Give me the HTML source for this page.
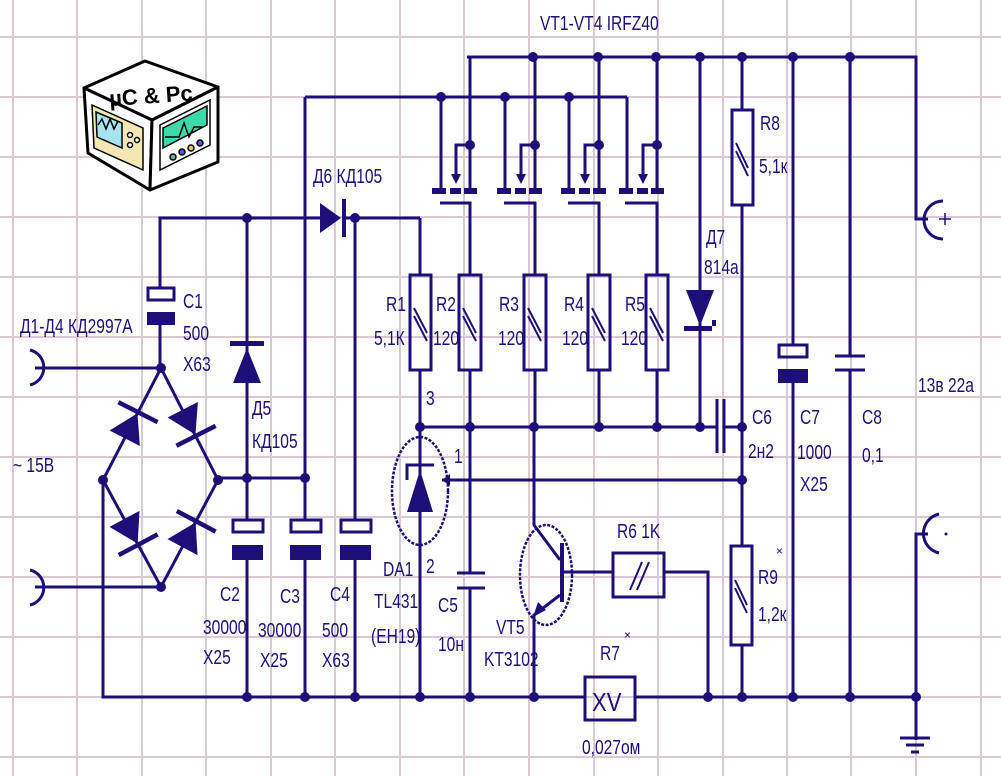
<!DOCTYPE html>
<html><head><meta charset="utf-8"><style>
html,body{margin:0;padding:0;background:#fff;}
svg{display:block;}
text{font-family:"Liberation Sans","DejaVu Sans",sans-serif;fill:#1e0f78;font-size:20px;}
</style></head><body>
<svg width="1001" height="776" viewBox="0 0 1001 776" xmlns="http://www.w3.org/2000/svg">
<rect width="1001" height="776" fill="#fff"/>
<g stroke="#d9c9d2" stroke-width="2">
<line x1="13" y1="0" x2="13" y2="776"/><line x1="77" y1="0" x2="77" y2="776"/><line x1="142" y1="0" x2="142" y2="776"/><line x1="206" y1="0" x2="206" y2="776"/><line x1="271" y1="0" x2="271" y2="776"/><line x1="335" y1="0" x2="335" y2="776"/><line x1="400" y1="0" x2="400" y2="776"/><line x1="464" y1="0" x2="464" y2="776"/><line x1="529" y1="0" x2="529" y2="776"/><line x1="594" y1="0" x2="594" y2="776"/><line x1="658" y1="0" x2="658" y2="776"/><line x1="723" y1="0" x2="723" y2="776"/><line x1="787" y1="0" x2="787" y2="776"/><line x1="851" y1="0" x2="851" y2="776"/><line x1="916" y1="0" x2="916" y2="776"/><line x1="981" y1="0" x2="981" y2="776"/>
<line x1="0" y1="37" x2="1001" y2="37"/><line x1="0" y1="97" x2="1001" y2="97"/><line x1="0" y1="157" x2="1001" y2="157"/><line x1="0" y1="217" x2="1001" y2="217"/><line x1="0" y1="277" x2="1001" y2="277"/><line x1="0" y1="337" x2="1001" y2="337"/><line x1="0" y1="397" x2="1001" y2="397"/><line x1="0" y1="457" x2="1001" y2="457"/><line x1="0" y1="517" x2="1001" y2="517"/><line x1="0" y1="577" x2="1001" y2="577"/><line x1="0" y1="637" x2="1001" y2="637"/><line x1="0" y1="697" x2="1001" y2="697"/><line x1="0" y1="757" x2="1001" y2="757"/>
</g>

<!-- logo -->
<g stroke="#000" stroke-width="3" stroke-linejoin="round">
<polygon points="84,88 145,61 218,87 152,120" fill="#fff"/>
<polygon points="84,88 152,120 150,190 88,153" fill="#fff"/>
<polygon points="152,120 218,87 218,162 150,190" fill="#fff"/>
</g>
<g stroke="#000" stroke-width="1.5">
<polygon points="92,105 143,128 143,170 94,148" fill="#f3e7b4"/>
<polygon points="96,112 122,123 122,148 97,137" fill="#a8e4f0"/>
<polygon points="160,125 210,100 210,145 160,170" fill="#fff"/>
<polygon points="163,128 207,106 207,125 163,148" fill="#3fd9a8"/>
<circle cx="173" cy="157" r="3" fill="#7aa"/><circle cx="182" cy="152" r="3" fill="#55e"/><circle cx="191" cy="148" r="3" fill="#ec5"/><circle cx="200" cy="143" r="3" fill="#55e"/>
<circle cx="130" cy="135" r="2.5" fill="#fff"/><circle cx="137" cy="140" r="2.5" fill="#fff"/><circle cx="130" cy="145" r="2.5" fill="#fff"/>
</g>
<path d="M98,125 l4,-6 4,10 4,-10 4,10 4,-8" stroke="#000" stroke-width="1.5" fill="none"/>
<path d="M165,137 h14 l5,-14 5,14 5,-10 h8" stroke="#000" stroke-width="1.5" fill="none"/>
<text x="109" y="104" style="font-weight:bold;fill:#000;font-size:22px" transform="rotate(-4 140 95)">µC &amp; Pc</text>

<!-- wires -->
<g stroke="#1e0f78" stroke-width="3" fill="none">
<polyline points="467,57 916,57 916,219 928,219"/>
<path d="M943,201 A18,18 0 0 0 943,239"/>
<polyline points="305,97 627,97"/>
<line x1="305" y1="97" x2="305" y2="520"/>
<line x1="441" y1="97" x2="441" y2="190"/><line x1="470" y1="57" x2="470" y2="190"/>
<line x1="505" y1="97" x2="505" y2="190"/><line x1="535" y1="57" x2="535" y2="190"/>
<line x1="569" y1="97" x2="569" y2="190"/><line x1="599" y1="57" x2="599" y2="190"/>
<line x1="627" y1="97" x2="627" y2="190"/><line x1="657" y1="57" x2="657" y2="190"/>
<polyline points="470,145 456,145 456,178"/><polyline points="535,145 521,145 521,178"/>
<polyline points="599,145 585,145 585,178"/><polyline points="657,145 643,145 643,178"/>
<polyline points="440,203 470,203 470,275"/><polyline points="504,203 535,203 535,275"/>
<polyline points="568,203 599,203 599,275"/><polyline points="625,203 657,203 657,275"/>
<line x1="470" y1="370" x2="470" y2="427"/><line x1="535" y1="370" x2="535" y2="427"/>
<line x1="599" y1="370" x2="599" y2="427"/><line x1="657" y1="370" x2="657" y2="427"/>
<rect x="459" y="275" width="22" height="95"/><rect x="524" y="275" width="22" height="95"/>
<rect x="588" y="275" width="22" height="95"/><rect x="646" y="275" width="22" height="95"/>
<line x1="420" y1="427" x2="717" y2="427"/><line x1="724" y1="427" x2="742" y2="427"/>
<line x1="717" y1="399" x2="717" y2="453"/><line x1="724" y1="399" x2="724" y2="453"/>
<line x1="700" y1="57" x2="700" y2="427"/>
<line x1="742" y1="57" x2="742" y2="110"/><rect x="732" y="110" width="21" height="95"/>
<line x1="742" y1="205" x2="742" y2="546"/><rect x="731" y="546" width="21" height="99"/>
<line x1="742" y1="645" x2="742" y2="697"/>
<line x1="793" y1="57" x2="793" y2="345"/><rect x="779" y="345" width="28" height="12"/><line x1="793" y1="382" x2="793" y2="697"/>
<line x1="850" y1="57" x2="850" y2="356"/><line x1="835" y1="356" x2="865" y2="356"/><line x1="835" y1="370" x2="865" y2="370"/><line x1="850" y1="370" x2="850" y2="697"/>
<polyline points="928,534 916,534 916,740"/>
<path d="M939,514 A20,20 0 0 0 939,553"/>
<line x1="900" y1="738" x2="930" y2="738"/><line x1="906" y1="745" x2="924" y2="745"/><line x1="911" y1="752" x2="919" y2="752"/>
<polyline points="103,480 103,697 585,697"/><line x1="635" y1="697" x2="916" y2="697"/>
<rect x="585" y="677" width="50" height="43"/>
<line x1="35" y1="368" x2="161" y2="368"/><line x1="35" y1="587" x2="161" y2="587"/>
<path d="M30,350 A18,18 0 0 1 30,385"/><path d="M30,570 A18,18 0 0 1 30,605"/>
<polyline points="161,368 103,480 161,587 218,480 161,368"/>
<line x1="218" y1="478" x2="305" y2="478"/>
<polyline points="160,288 160,218 320,218"/><line x1="345" y1="218" x2="420" y2="218"/>
<rect x="148" y="288" width="26" height="12"/><line x1="160" y1="325" x2="160" y2="368"/>
<line x1="247" y1="218" x2="247" y2="520"/><rect x="233" y="520" width="30" height="12"/><line x1="247" y1="560" x2="247" y2="697"/>
<rect x="291" y="520" width="30" height="12"/><line x1="305" y1="560" x2="305" y2="697"/>
<line x1="355" y1="218" x2="355" y2="520"/><rect x="341" y="520" width="30" height="12"/><line x1="355" y1="560" x2="355" y2="697"/>
<line x1="420" y1="218" x2="420" y2="275"/><rect x="410" y="275" width="21" height="95"/><line x1="420" y1="370" x2="420" y2="697"/>
<ellipse cx="420" cy="491" rx="28" ry="54" stroke-dasharray="3,1.5" stroke-width="2.5"/>
<line x1="442" y1="480" x2="742" y2="480"/>
<polyline points="407,480 407,465 434,465"/>
<line x1="470" y1="427" x2="470" y2="573"/><line x1="457" y1="573" x2="485" y2="573"/><line x1="457" y1="588" x2="485" y2="588"/><line x1="470" y1="588" x2="470" y2="697"/>
<ellipse cx="546" cy="575" rx="26" ry="50" stroke-dasharray="3,1.5" stroke-width="2.5"/>
<polyline points="534,427 534,525 560,560"/><polyline points="560,595 534,615 534,697"/>
<line x1="562" y1="543" x2="562" y2="602" stroke-width="4"/>
<line x1="564" y1="572" x2="613" y2="572"/><rect x="613" y="553" width="51" height="44"/>
<polyline points="664,572 708,572 708,697"/>
</g>
<g fill="#1e0f78" stroke="#1e0f78">
<g stroke="none">
<rect x="432" y="188" width="14" height="6"/><rect x="450" y="188" width="11" height="6"/><rect x="464" y="188" width="13" height="6"/>
<rect x="497" y="188" width="14" height="6"/><rect x="515" y="188" width="11" height="6"/><rect x="529" y="188" width="13" height="6"/>
<rect x="561" y="188" width="14" height="6"/><rect x="579" y="188" width="11" height="6"/><rect x="593" y="188" width="13" height="6"/>
<rect x="619" y="188" width="14" height="6"/><rect x="637" y="188" width="11" height="6"/><rect x="651" y="188" width="13" height="6"/>
<polygon points="451,174 461,174 456,184"/><polygon points="516,174 526,174 521,184"/><polygon points="580,174 590,174 585,184"/><polygon points="638,174 648,174 643,184"/>
<rect x="147" y="312" width="28" height="13"/>
<rect x="232" y="545" width="31" height="15"/><rect x="290" y="545" width="31" height="15"/><rect x="340" y="545" width="31" height="15"/>
<rect x="778" y="369" width="30" height="14"/>
<polygon points="320,203 320,233 341,218"/><rect x="342" y="199" width="4" height="38"/>
<polygon points="233,383 261,383 247,348"/><rect x="230" y="341" width="34" height="5"/>
<polygon points="686,290 714,290 700,326"/><polygon points="684,326 716,326 716,320 712,320 712,331 684,331"/>
<polygon points="407,512 433,512 420,470"/>
<polygon points="533,617 538,602 546,610"/>
<polygon points="442,480 450,474 450,486"/>
<g transform="translate(132,424) rotate(-63)"><polygon points="-16,-17 -16,17 12,0"/><rect x="11" y="-22" width="4.5" height="44"/></g>
<g transform="translate(190,424) rotate(63)"><polygon points="-16,-17 -16,17 12,0"/><rect x="11" y="-22" width="4.5" height="44"/></g>
<g transform="translate(132,533) rotate(62)"><polygon points="-16,-17 -16,17 12,0"/><rect x="11" y="-22" width="4.5" height="44"/></g>
<g transform="translate(190,533) rotate(-62)"><polygon points="-16,-17 -16,17 12,0"/><rect x="11" y="-22" width="4.5" height="44"/></g>
</g>
<g stroke="none">
<circle cx="533" cy="57" r="5"/><circle cx="598" cy="57" r="5"/><circle cx="656" cy="57" r="5"/><circle cx="700" cy="57" r="5"/><circle cx="742" cy="57" r="5"/><circle cx="793" cy="57" r="5"/><circle cx="850" cy="57" r="5"/>
<circle cx="441" cy="97" r="5"/><circle cx="505" cy="97" r="5"/><circle cx="569" cy="97" r="5"/>
<circle cx="470" cy="145" r="5"/><circle cx="535" cy="145" r="5"/><circle cx="599" cy="145" r="5"/><circle cx="657" cy="145" r="5"/>
<circle cx="247" cy="218" r="5"/><circle cx="355" cy="218" r="5"/>
<circle cx="161" cy="368" r="5"/><circle cx="103" cy="480" r="5"/><circle cx="218" cy="480" r="5"/><circle cx="161" cy="587" r="5"/>
<circle cx="247" cy="478" r="5"/><circle cx="305" cy="478" r="5"/>
<circle cx="420" cy="427" r="5"/><circle cx="470" cy="427" r="5"/><circle cx="534" cy="427" r="5"/><circle cx="599" cy="427" r="5"/><circle cx="657" cy="427" r="5"/><circle cx="700" cy="427" r="5"/><circle cx="742" cy="427" r="5"/><circle cx="742" cy="480" r="5"/>
<circle cx="247" cy="697" r="5"/><circle cx="305" cy="697" r="5"/><circle cx="355" cy="697" r="5"/><circle cx="420" cy="697" r="5"/><circle cx="470" cy="697" r="5"/><circle cx="534" cy="697" r="5"/><circle cx="708" cy="697" r="5"/><circle cx="742" cy="697" r="5"/><circle cx="793" cy="697" r="5"/><circle cx="850" cy="697" r="5"/><circle cx="916" cy="697" r="5"/>
<circle cx="946" cy="534" r="1.5"/>
</g>
</g>
<g stroke="#1e0f78" stroke-width="2">
<path d="M414,308 l13,25 M414,316 l13,25"/>
<path d="M463,308 l13,25 M463,316 l13,25"/>
<path d="M528,308 l13,25 M528,316 l13,25"/>
<path d="M592,308 l13,25 M592,316 l13,25"/>
<path d="M650,308 l13,25 M650,316 l13,25"/>
<path d="M736,143 l12,25 M736,151 l12,25"/>
<path d="M735,580 l12,25 M735,588 l12,25"/>
<path d="M630,590 l12,-28 M637,590 l12,-28"/>
<path d="M945,213 v12 M939,219 h12" stroke-width="1.5"/>
</g>
<g>
<text transform="translate(540,30) scale(.78,1)">VT1-VT4   IRFZ40</text>
<text transform="translate(313,183) scale(.78,1)">Д6  КД105</text>
<text transform="translate(183,308) scale(.78,1)">C1</text>
<text transform="translate(183,340) scale(.78,1)">500</text>
<text transform="translate(183,371) scale(.78,1)">X63</text>
<text transform="translate(20,333) scale(.78,1)">Д1-Д4 КД2997А</text>
<text transform="translate(386,311) scale(.78,1)">R1</text>
<text transform="translate(374,345) scale(.78,1)">5,1К</text>
<text transform="translate(436,311) scale(.78,1)">R2</text>
<text transform="translate(433,345) scale(.78,1)">120</text>
<text transform="translate(499,311) scale(.78,1)">R3</text>
<text transform="translate(498,345) scale(.78,1)">120</text>
<text transform="translate(564,311) scale(.78,1)">R4</text>
<text transform="translate(562,345) scale(.78,1)">120</text>
<text transform="translate(625,311) scale(.78,1)">R5</text>
<text transform="translate(621,345) scale(.78,1)">120</text>
<text transform="translate(760,130) scale(.78,1)">R8</text>
<text transform="translate(759,173) scale(.78,1)">5,1к</text>
<text transform="translate(706,244) scale(.78,1)">Д7</text>
<text transform="translate(704,274) scale(.78,1)">814а</text>
<text transform="translate(13,472) scale(.78,1)">~  15В</text>
<text transform="translate(252,415) scale(.78,1)">Д5</text>
<text transform="translate(252,448) scale(.78,1)">КД105</text>
<text transform="translate(220,601) scale(.78,1)">C2</text>
<text transform="translate(203,634) scale(.78,1)">30000</text>
<text transform="translate(203,664) scale(.78,1)">X25</text>
<text transform="translate(280,603) scale(.78,1)">C3</text>
<text transform="translate(258,637) scale(.78,1)">30000</text>
<text transform="translate(260,667) scale(.78,1)">X25</text>
<text transform="translate(330,601) scale(.78,1)">C4</text>
<text transform="translate(322,637) scale(.78,1)">500</text>
<text transform="translate(322,667) scale(.78,1)">X63</text>
<text transform="translate(383,576) scale(.78,1)">DA1</text>
<text transform="translate(374,608) scale(.78,1)">TL431</text>
<text transform="translate(371,643) scale(.78,1)">(EH19)</text>
<text transform="translate(426,405) scale(.78,1)">3</text>
<text transform="translate(454,463) scale(.78,1)">1</text>
<text transform="translate(426,573) scale(.78,1)">2</text>
<text transform="translate(438,612) scale(.78,1)">C5</text>
<text transform="translate(438,651) scale(.78,1)">10н</text>
<text transform="translate(496,634) scale(.78,1)">VT5</text>
<text transform="translate(484,666) scale(.78,1)">KT3102</text>
<text transform="translate(617,538) scale(.78,1)">R6  1K</text>
<text transform="translate(600,660) scale(.78,1)">R7</text>
<text transform="translate(624,639)" style="font-size:12px">×</text>
<text transform="translate(592,711) scale(.85,1)" style="font-size:26px">XV</text>
<text transform="translate(582,754) scale(.78,1)">0,027ом</text>
<text transform="translate(758,584) scale(.78,1)">R9</text>
<text transform="translate(776,555)" style="font-size:12px">×</text>
<text transform="translate(758,621) scale(.78,1)">1,2к</text>
<text transform="translate(752,424) scale(.78,1)">C6</text>
<text transform="translate(748,458) scale(.78,1)">2н2</text>
<text transform="translate(800,424) scale(.78,1)">C7</text>
<text transform="translate(797,459) scale(.78,1)">1000</text>
<text transform="translate(800,491) scale(.78,1)">X25</text>
<text transform="translate(862,424) scale(.78,1)">C8</text>
<text transform="translate(862,462) scale(.78,1)">0,1</text>
<text transform="translate(918,392) scale(.78,1)">13в 22а</text>
</g>
</svg>
</body></html>
